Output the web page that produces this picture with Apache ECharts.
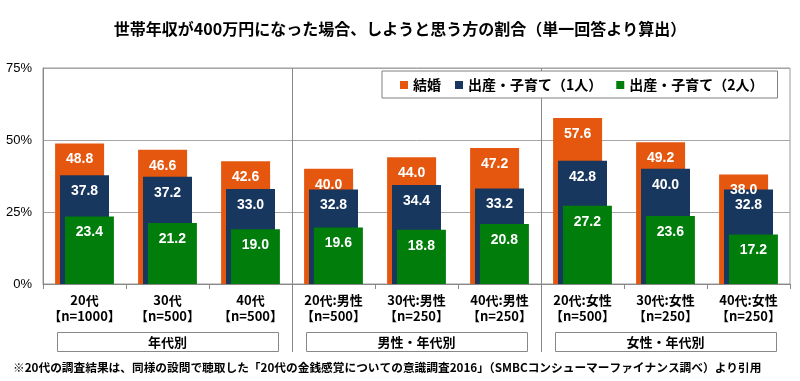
<!DOCTYPE html>
<html>
<head>
<meta charset="utf-8">
<script src="https://cdn.jsdelivr.net/npm/echarts@6/dist/echarts.min.js"></script>
<style>
html,body{margin:0;padding:0;background:#fff;}
#c{width:800px;height:381px;}
</style>
</head>
<body>
<div id="c"></div>
<script>
const titleText = '世帯年収が400万円になった場合、しようと思う方の割合（単一回答より算出）';
const footnote = '※20代の調査結果は、同様の設問で聴取した「20代の金銭感覚についての意識調査2016」（SMBCコンシューマーファイナンス調べ）より引用';
const categories = ['20代\n【n=1000】','30代\n【n=500】','40代\n【n=500】','20代:男性\n【n=500】','30代:男性\n【n=250】','40代:男性\n【n=250】','20代:女性\n【n=500】','30代:女性\n【n=250】','40代:女性\n【n=250】'];
const seriesNames = ['結婚','出産・子育て（1人）','出産・子育て（2人）'];
const marriage = [48.8, 46.6, 42.6, 40.0, 44.0, 47.2, 57.6, 49.2, 38.0];
const childOne = [37.8, 37.2, 33.0, 32.8, 34.4, 33.2, 42.8, 40.0, 32.8];
const childTwo = [23.4, 21.2, 19.0, 19.6, 18.8, 20.8, 27.2, 23.6, 17.2];
const groups = [{name:'年代別', from:0, to:2},{name:'男性・年代別', from:3, to:5},{name:'女性・年代別', from:6, to:8}];
const yTicks = [0, 25, 50, 75];

const colors = ['#E5570F', '#17375E', '#007D0A'];
const JP = '"Noto Sans CJK JP", "Noto Sans", sans-serif';
const NUM = '"Liberation Sans", Arial, sans-serif';

const chart = echarts.init(document.getElementById('c'), null, {renderer:'canvas'});

function mkSeries(name, data, color){
  return {
    name: name, type: 'bar', data: data,
    barWidth: 49, barGap: '-90%',
    itemStyle: {color: color},
    label: {show: true, position: 'insideTop', distance: 9, color: '#fff',
      fontFamily: NUM, fontWeight: 'bold', fontSize: 14,
      formatter: p => p.value.toFixed(1)},
    animation: false
  };
}

chart.setOption({
  animation: false,
  title: {text: titleText, left: 'center', top: 16,
    textStyle: {fontFamily: JP, fontWeight: 'bold', fontSize: 16, color: '#000'}},
  legend: {
    data: seriesNames, left: 382, top: 71, z: 10,
    backgroundColor: '#fff', borderColor: '#808080', borderWidth: 1,
    padding: [7, 14, 6, 18], itemGap: 14,
    icon: 'rect', itemWidth: 8, itemHeight: 8,
    textStyle: {fontFamily: JP, fontWeight: 'bold', fontSize: 14, color: '#000'}
  },
  grid: {left: 43, right: 10, top: 68, bottom: 97, show: true, borderColor: '#999', borderWidth: 1},
  xAxis: {
    type: 'category', data: categories,
    axisLine: {lineStyle: {color: '#888'}},
    axisTick: {show: true, length: 5, lineStyle: {color: '#888'}},
    axisLabel: {interval: 0, margin: 8, lineHeight: 16, color: '#000',
      fontFamily: JP, fontWeight: 'bold', fontSize: 13}
  },
  yAxis: {
    type: 'value', min: yTicks[0], max: yTicks[yTicks.length-1], interval: 25,
    axisLine: {show: true, lineStyle: {color: '#888'}},
    axisTick: {show: false},
    splitLine: {lineStyle: {color: '#A6A6A6'}},
    axisLabel: {formatter: '{value}%', color: '#000', fontFamily: NUM, fontSize: 13, margin: 11}
  },
  series: [
    mkSeries(seriesNames[0], marriage, colors[0]),
    mkSeries(seriesNames[1], childOne, colors[1]),
    mkSeries(seriesNames[2], childTwo, colors[2])
  ]
});

// decorations from the axis scale
const c0 = chart.convertToPixel({xAxisIndex: 0}, 0);
const c1 = chart.convertToPixel({xAxisIndex: 0}, 1);
const band = c1 - c0;
const yTop = chart.convertToPixel({yAxisIndex: 0}, yTicks[yTicks.length-1]);
const yBot = chart.convertToPixel({yAxisIndex: 0}, 0);
const gfx = [];
groups.forEach((g, gi) => {
  const xl = chart.convertToPixel({xAxisIndex: 0}, g.from) - band/2;
  const xr = chart.convertToPixel({xAxisIndex: 0}, g.to) + band/2;
  gfx.push({type: 'rect', z: 1, shape: {x: Math.round(xl + 14) + 0.5, y: yBot + 48.5, width: Math.round(xr - xl - 28), height: 19},
    style: {fill: '#fff', stroke: '#888', lineWidth: 1}});
  gfx.push({type: 'text', z: 2, x: (xl + xr)/2, y: yBot + 58, style: {text: g.name, fill: '#000',
    font: 'bold 13px ' + JP, textAlign: 'center', textVerticalAlign: 'middle'}});
  if (gi > 0) {
    gfx.push({type: 'line', z: 1, shape: {x1: Math.round(xl) + 0.5, y1: yTop, x2: Math.round(xl) + 0.5, y2: yBot + 68},
      style: {stroke: '#888', lineWidth: 1}});
  }
});
gfx.push({type: 'text', z: 2, x: 13, y: 368, style: {text: footnote, fill: '#000',
  font: 'bold 11.7px ' + JP, textAlign: 'left', textVerticalAlign: 'middle'}});
chart.setOption({graphic: gfx});
</script>
</body>
</html>
